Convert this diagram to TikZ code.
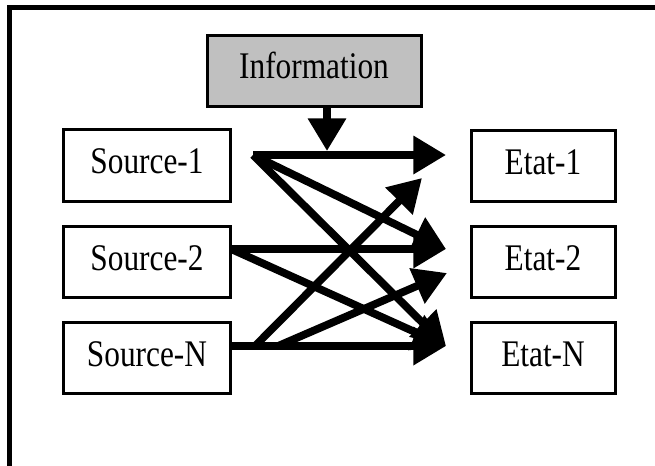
\documentclass[tikz,border=0pt]{standalone}
\usepackage{graphicx}
\usepackage{fontspec}
\setmainfont{Liberation Serif}
\usetikzlibrary{arrows.meta}
\definecolor{boxgray}{HTML}{C0C0C0}
% box labels are set slightly taller than wide
\newcommand\boxlabel[1]{\scalebox{1}[1.2]{#1}}
\tikzset{
  box/.style={draw=black, line width=2.25pt, rectangle, inner sep=0pt,
    text height=20pt, text depth=7.4pt,
    font=\fontsize{23.5}{28}\selectfont},
  srcbox/.style={box, minimum width=125.25pt, minimum height=53.5pt},
  etatbox/.style={box, minimum width=108pt, minimum height=53.25pt},
  infobox/.style={box, fill=boxgray, minimum width=160.5pt, minimum height=53.25pt},
  flow/.style={line width=5.8pt, line join=miter,
    -{Triangle[length=24.5pt, width=27.5pt]}},
}
\begin{document}
\begin{tikzpicture}[x=0.75pt, y=-0.75pt]
\useasboundingbox (0,0) rectangle (655,465);

% frame (open at right and bottom)
\draw[line width=3.8pt, line join=miter] (9.5,470) -- (9.5,7.5) -- (660,7.5);

% boxes
\node[infobox] (info) at (314,70.5) {\boxlabel{Information}};
\node[srcbox] (s1) at (147,165.5) {\boxlabel{Source-1}};
\node[srcbox] (s2) at (147,262) {\boxlabel{Source-2}};
\node[srcbox] (sN) at (147,358) {\boxlabel{Source-N}};
\node[etatbox] (e1) at (543,166) {\boxlabel{Etat-1}};
\node[etatbox] (e2) at (543,262) {\boxlabel{Etat-2}};
\node[etatbox] (eN) at (543,358) {\boxlabel{Etat-N}};

% start and end points of the flows
\coordinate (a1) at (253,155);
\coordinate (a2) at (231,249);
\coordinate (aN) at (231,346);
\coordinate (aN1) at (255,346);
\coordinate (aN2) at (278,346);
\coordinate (t1) at (446,155);
\coordinate (t2) at (446,249);
\coordinate (tN) at (446,346);
\coordinate (tN1) at (422,178);
\coordinate (tN2) at (447,273);
\coordinate (ti) at (327,151);

% information input
\draw[flow] (info.south -| ti) -- (ti);

% flows from the sources to the states
\draw[flow] (a1) -- (t1);
\draw[flow] (a1) -- (t2);
\draw[flow] (a1) -- (tN);
\draw[flow] (a2) -- (t2);
\draw[flow] (a2) -- (tN);
\draw[flow] (aN) -- (tN);
\draw[flow] (aN1) -- (tN1);
\draw[flow] (aN2) -- (tN2);
\end{tikzpicture}
\end{document}
